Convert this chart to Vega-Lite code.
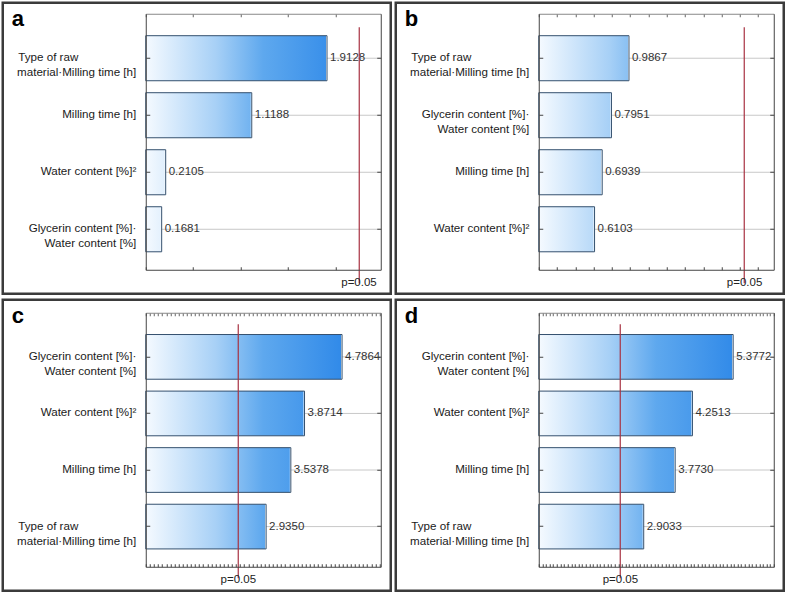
{
  "$schema": "https://vega.github.io/schema/vega-lite/v6.json",
  "padding": {"left": 0.75, "top": 0.75, "right": 0, "bottom": 0},
  "background": "white",
  "config": {
    "view": {"stroke": "#3b3b3b", "strokeWidth": 2.5}
  },
  "datasets": {
    "a": [
      {"term": "Type of raw\u00a0\u00a0\u00a0\u00a0\u00a0\u00a0\u00a0\u00a0\u00a0\u00a0\u00a0\u00a0\u00a0\u00a0\u00a0\u00a0\u00a0\u00a0\u2060|material·Milling time [h]", "effect": 1.9128},
      {"term": "Milling time [h]", "effect": 1.1188},
      {"term": "Water content [%]²", "effect": 0.2105},
      {"term": "Glycerin content [%]·|Water content [%]", "effect": 0.1681}
    ],
    "b": [
      {"term": "Type of raw\u00a0\u00a0\u00a0\u00a0\u00a0\u00a0\u00a0\u00a0\u00a0\u00a0\u00a0\u00a0\u00a0\u00a0\u00a0\u00a0\u00a0\u00a0\u2060|material·Milling time [h]", "effect": 0.9867},
      {"term": "Glycerin content [%]·|Water content [%]", "effect": 0.7951},
      {"term": "Milling time [h]", "effect": 0.6939},
      {"term": "Water content [%]²", "effect": 0.6103}
    ],
    "c": [
      {"term": "Glycerin content [%]·|Water content [%]", "effect": 4.7864},
      {"term": "Water content [%]²", "effect": 3.8714},
      {"term": "Milling time [h]", "effect": 3.5378},
      {"term": "Type of raw\u00a0\u00a0\u00a0\u00a0\u00a0\u00a0\u00a0\u00a0\u00a0\u00a0\u00a0\u00a0\u00a0\u00a0\u00a0\u00a0\u00a0\u00a0\u2060|material·Milling time [h]", "effect": 2.935}
    ],
    "d": [
      {"term": "Glycerin content [%]·|Water content [%]", "effect": 5.3772},
      {"term": "Water content [%]²", "effect": 4.2513},
      {"term": "Milling time [h]", "effect": 3.773},
      {"term": "Type of raw\u00a0\u00a0\u00a0\u00a0\u00a0\u00a0\u00a0\u00a0\u00a0\u00a0\u00a0\u00a0\u00a0\u00a0\u00a0\u00a0\u00a0\u00a0\u2060|material·Milling time [h]", "effect": 2.9033}
    ]
  },
  "spacing": 2,
  "vconcat": [
    {"hconcat": [
      {
        "width": 388, "height": 291,
        "data": {"name": "a"},
        "title": {"text": "a", "anchor": "start", "frame": "group", "fontSize": 22, "fontWeight": "bold", "font": "Liberation Sans", "color": "#000", "offset": -28, "dx": 9},
        "resolve": {"axis": {"x": "independent", "y": "independent"}},
        "layer": [
          {"mark": {"type": "bar", "fill": {"gradient": "linear", "x1": 0, "y1": 0, "x2": 1, "y2": 0, "stops": [{"offset": 0, "color": "#f5faff"}, {"offset": 0.3, "color": "#a7d0f6"}, {"offset": 0.5, "color": "#5ea8ee"}, {"offset": 1, "color": "#1a7be6"}]}, "strokeWidth": 0},
           "encoding": {
             "y": {"field": "term", "type": "nominal", "sort": null, "scale": {"range": [11, 267], "paddingInner": 0.21, "paddingOuter": 0.35, "align": 0.55}, "axis": {"orient": "left", "offset": -143, "title": null, "domainColor": "#444", "ticks": true, "tickSize": -4, "tickColor": "#444", "labelPadding": 14, "labelFont": "Liberation Sans", "labelFontSize": 11.6, "labelColor": "#1a1a1a", "labelLineHeight": 15, "labelExpr": "split(datum.label, '|')", "labelLimit": 300, "grid": false, "zindex": 1}},
             "x": {"datum": 0, "type": "quantitative", "scale": {"domain": [0, 2.48], "range": [143, 378], "nice": false, "zero": false}, "axis": {"orient": "bottom", "offset": -24, "title": null, "labels": false, "domainColor": "#444", "tickSize": -3, "tickColor": "#444", "tickCount": 5, "grid": false, "zindex": 1}},
             "x2": {"datum": 2.48}
           }},
          {"mark": {"type": "bar", "fill": "white", "stroke": "white", "strokeWidth": 2},
           "encoding": {
             "y": {"field": "term", "type": "nominal", "sort": null, "scale": {"range": [11, 267], "paddingInner": 0.21, "paddingOuter": 0.35, "align": 0.55}, "axis": {"orient": "right", "offset": -10, "title": null, "labels": false, "domainColor": "#444", "tickSize": -4, "tickColor": "#444", "grid": false, "zindex": 1}},
             "x": {"field": "effect", "type": "quantitative", "scale": {"domain": [0, 2.48], "range": [143, 378], "nice": false, "zero": false}, "axis": {"orient": "top", "offset": -11, "title": null, "labels": false, "domainColor": "#888", "tickSize": -3, "tickColor": "#666", "tickCount": 5, "grid": false, "zindex": 1}},
             "x2": {"datum": 2.48}
           }},
          {"mark": {"type": "rule", "color": "#c8c8c8", "strokeWidth": 1},
           "encoding": {
             "y": {"field": "term", "type": "nominal", "sort": null, "scale": {"range": [11, 267], "paddingInner": 0.21, "paddingOuter": 0.35, "align": 0.55}, "axis": null},
             "x": {"field": "effect", "type": "quantitative", "scale": {"domain": [0, 2.48], "range": [143, 378], "nice": false, "zero": false}, "axis": {"orient": "bottom", "offset": -24, "title": null, "values": [2.245], "labelExpr": "'p=0.05'", "labelFlush": false, "ticks": false, "domain": false, "labelPadding": 7, "labelFont": "Liberation Sans", "labelFontSize": 11.5, "labelColor": "#222", "grid": true, "gridColor": "#a83242", "gridWidth": 1.2, "gridOpacity": 1, "zindex": 1}},
             "x2": {"datum": 2.48}
           }},
          {"mark": {"type": "bar", "fill": "transparent", "stroke": "#34506e", "strokeWidth": 1},
           "encoding": {
             "y": {"field": "term", "type": "nominal", "sort": null, "scale": {"range": [11, 267], "paddingInner": 0.21, "paddingOuter": 0.35, "align": 0.55}, "axis": null},
             "x": {"field": "effect", "type": "quantitative", "scale": {"domain": [0, 2.48], "range": [143, 378], "nice": false, "zero": false}, "axis": null}
           }},
          {"mark": {"type": "text", "align": "left", "baseline": "middle", "dx": 3, "fontSize": 11.5, "font": "Liberation Sans", "color": "#333"},
           "encoding": {
             "y": {"field": "term", "type": "nominal", "sort": null, "scale": {"range": [11, 267], "paddingInner": 0.21, "paddingOuter": 0.35, "align": 0.55}, "axis": null},
             "x": {"field": "effect", "type": "quantitative", "scale": {"domain": [0, 2.48], "range": [143, 378], "nice": false, "zero": false}, "axis": null},
             "text": {"field": "effect", "type": "quantitative", "format": ".4f"}
           }}
        ]
      },
      {
        "width": 388, "height": 291,
        "data": {"name": "b"},
        "title": {"text": "b", "anchor": "start", "frame": "group", "fontSize": 22, "fontWeight": "bold", "font": "Liberation Sans", "color": "#000", "offset": -28, "dx": 9},
        "resolve": {"axis": {"x": "independent", "y": "independent"}},
        "layer": [
          {"mark": {"type": "bar", "fill": {"gradient": "linear", "x1": 0, "y1": 0, "x2": 1, "y2": 0, "stops": [{"offset": 0, "color": "#f5faff"}, {"offset": 0.3, "color": "#a7d0f6"}, {"offset": 0.5, "color": "#5ea8ee"}, {"offset": 1, "color": "#1a7be6"}]}, "strokeWidth": 0},
           "encoding": {
             "y": {"field": "term", "type": "nominal", "sort": null, "scale": {"range": [11, 267], "paddingInner": 0.21, "paddingOuter": 0.35, "align": 0.55}, "axis": {"orient": "left", "offset": -143, "title": null, "domainColor": "#444", "ticks": true, "tickSize": -4, "tickColor": "#444", "labelPadding": 14, "labelFont": "Liberation Sans", "labelFontSize": 11.6, "labelColor": "#1a1a1a", "labelLineHeight": 15, "labelExpr": "split(datum.label, '|')", "labelLimit": 300, "grid": false, "zindex": 1}},
             "x": {"datum": 0, "type": "quantitative", "scale": {"domain": [0, 2.57], "range": [143, 378], "nice": false, "zero": false}, "axis": {"orient": "bottom", "offset": -24, "title": null, "labels": false, "domainColor": "#444", "tickSize": -3, "tickColor": "#444", "tickCount": 12, "grid": false, "zindex": 1}},
             "x2": {"datum": 2.57}
           }},
          {"mark": {"type": "bar", "fill": "white", "stroke": "white", "strokeWidth": 2},
           "encoding": {
             "y": {"field": "term", "type": "nominal", "sort": null, "scale": {"range": [11, 267], "paddingInner": 0.21, "paddingOuter": 0.35, "align": 0.55}, "axis": {"orient": "right", "offset": -10, "title": null, "labels": false, "domainColor": "#444", "tickSize": -4, "tickColor": "#444", "grid": false, "zindex": 1}},
             "x": {"field": "effect", "type": "quantitative", "scale": {"domain": [0, 2.57], "range": [143, 378], "nice": false, "zero": false}, "axis": {"orient": "top", "offset": -11, "title": null, "labels": false, "domainColor": "#888", "tickSize": -3, "tickColor": "#666", "tickCount": 12, "grid": false, "zindex": 1}},
             "x2": {"datum": 2.57}
           }},
          {"mark": {"type": "rule", "color": "#c8c8c8", "strokeWidth": 1},
           "encoding": {
             "y": {"field": "term", "type": "nominal", "sort": null, "scale": {"range": [11, 267], "paddingInner": 0.21, "paddingOuter": 0.35, "align": 0.55}, "axis": null},
             "x": {"field": "effect", "type": "quantitative", "scale": {"domain": [0, 2.57], "range": [143, 378], "nice": false, "zero": false}, "axis": {"orient": "bottom", "offset": -24, "title": null, "values": [2.245], "labelExpr": "'p=0.05'", "labelFlush": false, "ticks": false, "domain": false, "labelPadding": 7, "labelFont": "Liberation Sans", "labelFontSize": 11.5, "labelColor": "#222", "grid": true, "gridColor": "#a83242", "gridWidth": 1.2, "gridOpacity": 1, "zindex": 1}},
             "x2": {"datum": 2.57}
           }},
          {"mark": {"type": "bar", "fill": "transparent", "stroke": "#34506e", "strokeWidth": 1},
           "encoding": {
             "y": {"field": "term", "type": "nominal", "sort": null, "scale": {"range": [11, 267], "paddingInner": 0.21, "paddingOuter": 0.35, "align": 0.55}, "axis": null},
             "x": {"field": "effect", "type": "quantitative", "scale": {"domain": [0, 2.57], "range": [143, 378], "nice": false, "zero": false}, "axis": null}
           }},
          {"mark": {"type": "text", "align": "left", "baseline": "middle", "dx": 3, "fontSize": 11.5, "font": "Liberation Sans", "color": "#333"},
           "encoding": {
             "y": {"field": "term", "type": "nominal", "sort": null, "scale": {"range": [11, 267], "paddingInner": 0.21, "paddingOuter": 0.35, "align": 0.55}, "axis": null},
             "x": {"field": "effect", "type": "quantitative", "scale": {"domain": [0, 2.57], "range": [143, 378], "nice": false, "zero": false}, "axis": null},
             "text": {"field": "effect", "type": "quantitative", "format": ".4f"}
           }}
        ]
      }
    ], "spacing": 1},
    {"hconcat": [
      {
        "width": 388, "height": 291,
        "data": {"name": "c"},
        "title": {"text": "c", "anchor": "start", "frame": "group", "fontSize": 22, "fontWeight": "bold", "font": "Liberation Sans", "color": "#000", "offset": -28, "dx": 9},
        "resolve": {"axis": {"x": "independent", "y": "independent"}},
        "layer": [
          {"mark": {"type": "bar", "fill": {"gradient": "linear", "x1": 0, "y1": 0, "x2": 1, "y2": 0, "stops": [{"offset": 0, "color": "#f5faff"}, {"offset": 0.3, "color": "#a7d0f6"}, {"offset": 0.5, "color": "#5ea8ee"}, {"offset": 1, "color": "#1a7be6"}]}, "strokeWidth": 0},
           "encoding": {
             "y": {"field": "term", "type": "nominal", "sort": null, "scale": {"range": [13, 267], "paddingInner": 0.21, "paddingOuter": 0.35, "align": 0.55}, "axis": {"orient": "left", "offset": -143, "title": null, "domainColor": "#444", "ticks": true, "tickSize": -4, "tickColor": "#444", "labelPadding": 14, "labelFont": "Liberation Sans", "labelFontSize": 11.6, "labelColor": "#1a1a1a", "labelLineHeight": 15, "labelExpr": "split(datum.label, '|')", "labelLimit": 300, "grid": false, "zindex": 1}},
             "x": {"datum": 0, "type": "quantitative", "scale": {"domain": [0, 5.73], "range": [143, 378], "nice": false, "zero": false}, "axis": {"orient": "bottom", "offset": -24, "title": null, "labels": false, "domainColor": "#444", "tickSize": -3, "tickColor": "#444", "tickCount": 50, "grid": false, "zindex": 1}},
             "x2": {"datum": 5.73}
           }},
          {"mark": {"type": "bar", "fill": "white", "stroke": "white", "strokeWidth": 2},
           "encoding": {
             "y": {"field": "term", "type": "nominal", "sort": null, "scale": {"range": [13, 267], "paddingInner": 0.21, "paddingOuter": 0.35, "align": 0.55}, "axis": {"orient": "right", "offset": -10, "title": null, "labels": false, "domainColor": "#444", "tickSize": -4, "tickColor": "#444", "grid": false, "zindex": 1}},
             "x": {"field": "effect", "type": "quantitative", "scale": {"domain": [0, 5.73], "range": [143, 378], "nice": false, "zero": false}, "axis": {"orient": "top", "offset": -13, "title": null, "labels": false, "domainColor": "#888", "tickSize": -3, "tickColor": "#666", "tickCount": 50, "grid": false, "zindex": 1}},
             "x2": {"datum": 5.73}
           }},
          {"mark": {"type": "rule", "color": "#c8c8c8", "strokeWidth": 1},
           "encoding": {
             "y": {"field": "term", "type": "nominal", "sort": null, "scale": {"range": [13, 267], "paddingInner": 0.21, "paddingOuter": 0.35, "align": 0.55}, "axis": null},
             "x": {"field": "effect", "type": "quantitative", "scale": {"domain": [0, 5.73], "range": [143, 378], "nice": false, "zero": false}, "axis": {"orient": "bottom", "offset": -24, "title": null, "values": [2.245], "labelExpr": "'p=0.05'", "labelFlush": false, "ticks": false, "domain": false, "labelPadding": 7, "labelFont": "Liberation Sans", "labelFontSize": 11.5, "labelColor": "#222", "grid": true, "gridColor": "#a83242", "gridWidth": 1.2, "gridOpacity": 1, "zindex": 1}},
             "x2": {"datum": 5.73}
           }},
          {"mark": {"type": "bar", "fill": "transparent", "stroke": "#34506e", "strokeWidth": 1},
           "encoding": {
             "y": {"field": "term", "type": "nominal", "sort": null, "scale": {"range": [13, 267], "paddingInner": 0.21, "paddingOuter": 0.35, "align": 0.55}, "axis": null},
             "x": {"field": "effect", "type": "quantitative", "scale": {"domain": [0, 5.73], "range": [143, 378], "nice": false, "zero": false}, "axis": null}
           }},
          {"mark": {"type": "text", "align": "left", "baseline": "middle", "dx": 3, "fontSize": 11.5, "font": "Liberation Sans", "color": "#333"},
           "encoding": {
             "y": {"field": "term", "type": "nominal", "sort": null, "scale": {"range": [13, 267], "paddingInner": 0.21, "paddingOuter": 0.35, "align": 0.55}, "axis": null},
             "x": {"field": "effect", "type": "quantitative", "scale": {"domain": [0, 5.73], "range": [143, 378], "nice": false, "zero": false}, "axis": null},
             "text": {"field": "effect", "type": "quantitative", "format": ".4f"}
           }}
        ]
      },
      {
        "width": 388, "height": 291,
        "data": {"name": "d"},
        "title": {"text": "d", "anchor": "start", "frame": "group", "fontSize": 22, "fontWeight": "bold", "font": "Liberation Sans", "color": "#000", "offset": -28, "dx": 9},
        "resolve": {"axis": {"x": "independent", "y": "independent"}},
        "layer": [
          {"mark": {"type": "bar", "fill": {"gradient": "linear", "x1": 0, "y1": 0, "x2": 1, "y2": 0, "stops": [{"offset": 0, "color": "#f5faff"}, {"offset": 0.3, "color": "#a7d0f6"}, {"offset": 0.5, "color": "#5ea8ee"}, {"offset": 1, "color": "#1a7be6"}]}, "strokeWidth": 0},
           "encoding": {
             "y": {"field": "term", "type": "nominal", "sort": null, "scale": {"range": [13, 267], "paddingInner": 0.21, "paddingOuter": 0.35, "align": 0.55}, "axis": {"orient": "left", "offset": -143, "title": null, "domainColor": "#444", "ticks": true, "tickSize": -4, "tickColor": "#444", "labelPadding": 14, "labelFont": "Liberation Sans", "labelFontSize": 11.6, "labelColor": "#1a1a1a", "labelLineHeight": 15, "labelExpr": "split(datum.label, '|')", "labelLimit": 300, "grid": false, "zindex": 1}},
             "x": {"datum": 0, "type": "quantitative", "scale": {"domain": [0, 6.5], "range": [143, 378], "nice": false, "zero": false}, "axis": {"orient": "bottom", "offset": -24, "title": null, "labels": false, "domainColor": "#444", "tickSize": -3, "tickColor": "#444", "tickCount": 60, "grid": false, "zindex": 1}},
             "x2": {"datum": 6.5}
           }},
          {"mark": {"type": "bar", "fill": "white", "stroke": "white", "strokeWidth": 2},
           "encoding": {
             "y": {"field": "term", "type": "nominal", "sort": null, "scale": {"range": [13, 267], "paddingInner": 0.21, "paddingOuter": 0.35, "align": 0.55}, "axis": {"orient": "right", "offset": -10, "title": null, "labels": false, "domainColor": "#444", "tickSize": -4, "tickColor": "#444", "grid": false, "zindex": 1}},
             "x": {"field": "effect", "type": "quantitative", "scale": {"domain": [0, 6.5], "range": [143, 378], "nice": false, "zero": false}, "axis": {"orient": "top", "offset": -13, "title": null, "labels": false, "domainColor": "#888", "tickSize": -3, "tickColor": "#666", "tickCount": 60, "grid": false, "zindex": 1}},
             "x2": {"datum": 6.5}
           }},
          {"mark": {"type": "rule", "color": "#c8c8c8", "strokeWidth": 1},
           "encoding": {
             "y": {"field": "term", "type": "nominal", "sort": null, "scale": {"range": [13, 267], "paddingInner": 0.21, "paddingOuter": 0.35, "align": 0.55}, "axis": null},
             "x": {"field": "effect", "type": "quantitative", "scale": {"domain": [0, 6.5], "range": [143, 378], "nice": false, "zero": false}, "axis": {"orient": "bottom", "offset": -24, "title": null, "values": [2.245], "labelExpr": "'p=0.05'", "labelFlush": false, "ticks": false, "domain": false, "labelPadding": 7, "labelFont": "Liberation Sans", "labelFontSize": 11.5, "labelColor": "#222", "grid": true, "gridColor": "#a83242", "gridWidth": 1.2, "gridOpacity": 1, "zindex": 1}},
             "x2": {"datum": 6.5}
           }},
          {"mark": {"type": "bar", "fill": "transparent", "stroke": "#34506e", "strokeWidth": 1},
           "encoding": {
             "y": {"field": "term", "type": "nominal", "sort": null, "scale": {"range": [13, 267], "paddingInner": 0.21, "paddingOuter": 0.35, "align": 0.55}, "axis": null},
             "x": {"field": "effect", "type": "quantitative", "scale": {"domain": [0, 6.5], "range": [143, 378], "nice": false, "zero": false}, "axis": null}
           }},
          {"mark": {"type": "text", "align": "left", "baseline": "middle", "dx": 3, "fontSize": 11.5, "font": "Liberation Sans", "color": "#333"},
           "encoding": {
             "y": {"field": "term", "type": "nominal", "sort": null, "scale": {"range": [13, 267], "paddingInner": 0.21, "paddingOuter": 0.35, "align": 0.55}, "axis": null},
             "x": {"field": "effect", "type": "quantitative", "scale": {"domain": [0, 6.5], "range": [143, 378], "nice": false, "zero": false}, "axis": null},
             "text": {"field": "effect", "type": "quantitative", "format": ".4f"}
           }}
        ]
      }
    ], "spacing": 1}
  ]
}
